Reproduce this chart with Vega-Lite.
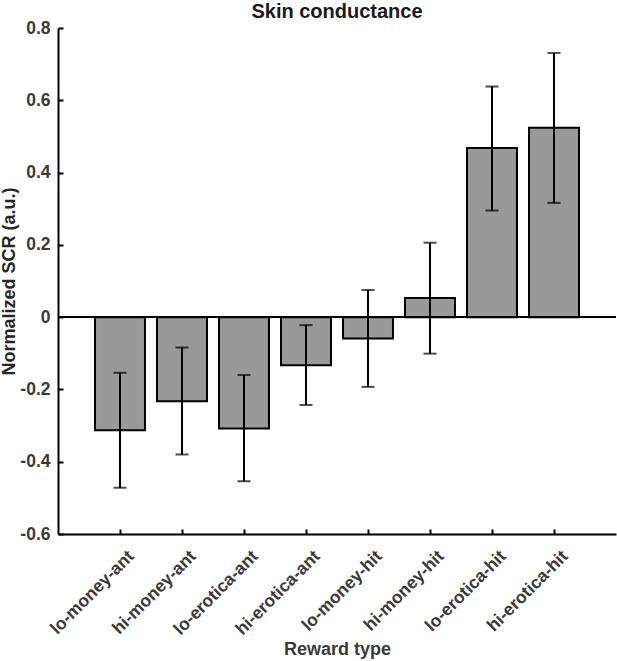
{
  "$schema": "https://vega.github.io/schema/vega-lite/v6.json",
  "width": 558,
  "height": 506,
  "autosize": "none",
  "padding": {"left": 58, "top": 28, "right": 1, "bottom": 127},
  "background": "white",
  "title": {
    "text": "Skin conductance",
    "font": "Liberation Sans",
    "fontSize": 20,
    "fontWeight": "bold",
    "color": "#1a1a1a",
    "offset": -3,
    "anchor": "middle"
  },
  "config": {
    "view": {"stroke": null},
    "font": "Liberation Sans"
  },
  "data": {
    "values": [
      {"reward": "lo-money-ant", "mean": -0.313, "lo": -0.472, "hi": -0.154},
      {"reward": "hi-money-ant", "mean": -0.233, "lo": -0.380, "hi": -0.084},
      {"reward": "lo-erotica-ant", "mean": -0.308, "lo": -0.454, "hi": -0.160},
      {"reward": "hi-erotica-ant", "mean": -0.133, "lo": -0.243, "hi": -0.022},
      {"reward": "lo-money-hit", "mean": -0.059, "lo": -0.193, "hi": 0.075},
      {"reward": "hi-money-hit", "mean": 0.053, "lo": -0.101, "hi": 0.206},
      {"reward": "lo-erotica-hit", "mean": 0.468, "lo": 0.295, "hi": 0.638},
      {"reward": "hi-erotica-hit", "mean": 0.524, "lo": 0.316, "hi": 0.731}
    ]
  },
  "encoding": {
    "x": {
      "field": "reward",
      "type": "nominal",
      "sort": null,
      "title": "Reward type",
      "scale": {"paddingInner": 0.194, "paddingOuter": 0.597, "align": 0.5},
      "axis": {
        "domainColor": "#000000",
        "domainWidth": 2,
        "tickColor": "#000000",
        "tickWidth": 2,
        "tickSize": -5,
        "labelAngle": -45,
        "labelAlign": "right",
        "labelBaseline": "top",
        "labelOffset": 5,
        "labelPadding": 18,
        "labelFont": "Liberation Sans",
        "labelFontSize": 17.5,
        "labelFontWeight": "bold",
        "labelColor": "#3a3a3a",
        "titleFont": "Liberation Sans",
        "titleFontSize": 18,
        "titleFontWeight": "bold",
        "titleColor": "#3a3a3a",
        "titlePadding": 3
      }
    }
  },
  "layer": [
    {
      "mark": {"type": "bar", "fill": "#999999", "stroke": "#000000", "strokeWidth": 2},
      "encoding": {
        "y": {
          "field": "mean",
          "type": "quantitative",
          "title": "Normalized SCR (a.u.)",
          "scale": {"domain": [-0.6, 0.8], "nice": false, "zero": true},
          "axis": {
            "values": [-0.6, -0.4, -0.2, 0, 0.2, 0.4, 0.6, 0.8],
            "labelExpr": "datum.value == 0 ? '0' : (datum.value < 0 ? '-' : '') + format(abs(datum.value), '.1f')",
            "grid": false,
            "domainColor": "#000000",
            "domainWidth": 2,
            "tickColor": "#000000",
            "tickWidth": 2,
            "tickSize": -5,
            "labelPadding": 13,
            "labelFont": "Liberation Sans",
            "labelFontSize": 17.5,
            "labelFontWeight": "bold",
            "labelColor": "#3a3a3a",
            "titleFont": "Liberation Sans",
            "titleFontSize": 18,
            "titleFontWeight": "bold",
            "titleColor": "#262626",
            "titlePadding": 1
          }
        },
        "y2": {"datum": 0}
      }
    },
    {
      "mark": {"type": "rule", "color": "#000000", "strokeWidth": 1},
      "encoding": {
        "x": {"value": 0},
        "x2": {"value": 558},
        "y": {"datum": 0}
      }
    },
    {
      "mark": {"type": "rule", "color": "#000000", "strokeWidth": 2},
      "encoding": {
        "y": {"field": "lo", "type": "quantitative"},
        "y2": {"field": "hi"}
      }
    },
    {
      "mark": {"type": "tick", "color": "#000000", "size": 13, "thickness": 2, "orient": "horizontal"},
      "encoding": {
        "y": {"field": "lo", "type": "quantitative"}
      }
    },
    {
      "mark": {"type": "tick", "color": "#000000", "size": 13, "thickness": 2, "orient": "horizontal"},
      "encoding": {
        "y": {"field": "hi", "type": "quantitative"}
      }
    }
  ]
}
